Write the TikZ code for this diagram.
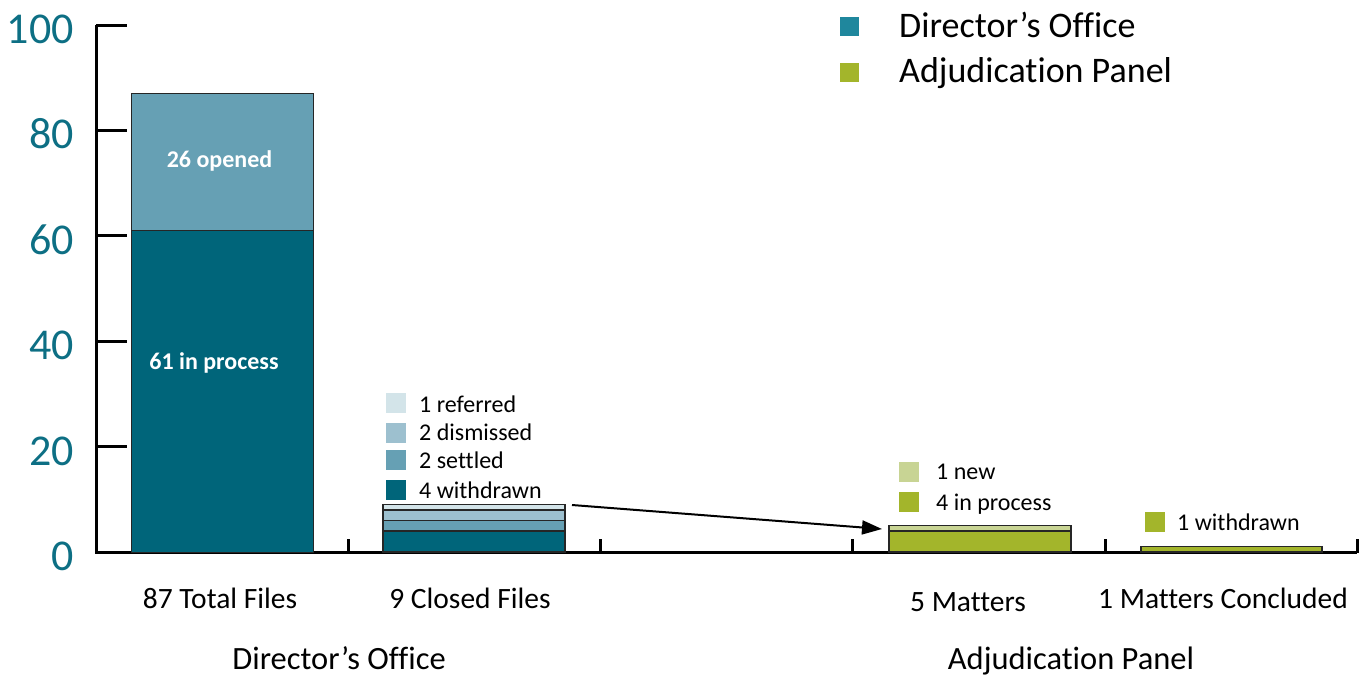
\documentclass[tikz,border=0pt]{standalone}
\usepackage{fontspec}
\setmainfont{Carlito}[Ligatures=NoCommon]
\usetikzlibrary{arrows.meta}
\definecolor{dteal}{HTML}{00657A}
\definecolor{mteal}{HTML}{66A0B4}
\definecolor{lteal}{HTML}{9DC0CF}
\definecolor{pteal}{HTML}{D3E4E9}
\definecolor{legteal}{HTML}{1F879D}
\definecolor{numteal}{HTML}{0D6F84}
\definecolor{agreen}{HTML}{A3B52B}
\definecolor{lgreen}{HTML}{C8D494}
\begin{document}
\begin{tikzpicture}[x=1pt,y=-1pt,
  axisline/.style={line width=3pt,black},
  barline/.style={draw=black!85,line width=1.4pt},
  ynum/.style={anchor=base east,inner sep=0pt,text=numteal,font=\fontsize{44}{44}\selectfont},
  inlbl/.style={anchor=base,inner sep=0pt,text=white,font=\bfseries\fontsize{24}{24}\selectfont},
  keytxt/.style={anchor=base west,inner sep=0pt,font=\fontsize{24}{24}\selectfont},
  keysq/.style={minimum size=20pt,inner sep=0pt,draw=none},
  xlbl/.style={anchor=base,inner sep=0pt,font=\fontsize{29.5}{29.5}\selectfont},
  grplbl/.style={anchor=base,inner sep=0pt,font=\fontsize{32.5}{32.5}\selectfont},
  toplbl/.style={anchor=base west,inner sep=0pt,font=\fontsize{36}{36}\selectfont},
  topsq/.style={minimum size=19pt,inner sep=0pt,draw=none}]
\useasboundingbox (0,0) rectangle (1364,675);
% axes
\draw[axisline] (96,25) -- (96,552) -- (1357,552);
\foreach \t in {25,130.4,235.8,341.2,446.6}{\draw[axisline] (96,\t) -- (127,\t);}
\foreach \xx in {348,600,852,1105,1357}{\draw[axisline] (\xx,553) -- (\xx,539);}
% y numbers
\node[ynum] (y100) at (74,43) {100};
\node[ynum] (y80) at (74,148.9) {80};
\node[ynum] (y60) at (74,254.3) {60};
\node[ynum] (y40) at (74,359.7) {40};
\node[ynum] (y20) at (74,465.1) {20};
\node[ynum] (y0) at (74,570.5) {0};
% bar 1
\draw[draw=black!85,line width=1pt,fill=dteal] (131,552) rectangle (313,230.5);
\draw[draw=black!85,line width=1pt,fill=mteal] (131,230.5) rectangle (313,93.5);
\node[inlbl] (opened) at (219.5,167) {26 opened};
\node[inlbl] (inproc) at (214,369) {61 in process};
% bar 2
\draw[barline,fill=dteal] (383,552) rectangle (565,530.9);
\draw[barline,fill=mteal] (383,530.9) rectangle (565,520.4);
\draw[barline,fill=lteal] (383,520.4) rectangle (565,509.8);
\draw[barline,fill=pteal] (383,509.8) rectangle (565,504.6);
\node[keysq,fill=pteal] (kref) at (396,403) {};
\node[keysq,fill=lteal] (kdis) at (396,433) {};
\node[keysq,fill=mteal] (kset) at (396,460) {};
\node[keysq,fill=dteal] (kwit) at (396,490) {};
\node[keytxt] (tref) at (419,412.5) {1 referred};
\node[keytxt] (tdis) at (419,440.5) {2 dismissed};
\node[keytxt] (tset) at (419,468.5) {2 settled};
\node[keytxt] (twit) at (419,498.5) {4 withdrawn};
% bar 3
\draw[barline,fill=agreen] (889,552) rectangle (1071,530.9);
\draw[barline,fill=lgreen] (889,530.9) rectangle (1071,525.6);
\node[keysq,fill=lgreen] (knew) at (909,472) {};
\node[keysq,fill=agreen] (kproc) at (909,502) {};
\node[keytxt] (tnew) at (936,479) {1 new};
\node[keytxt] (tproc) at (936,510) {4 in process};
% bar 4
\draw[barline,fill=agreen] (1141,552) rectangle (1322,546.7);
\node[keysq,fill=agreen] (kwd) at (1155,522) {};
\node[keytxt] (twd) at (1177,530) {1 withdrawn};
% arrow
\coordinate (as) at (572,505);
\coordinate (ae) at (882,529);
\draw[line width=2pt,-{Triangle[length=20pt,width=14pt]}] (as) -- (ae);
% x labels
\node[xlbl] (x1) at (220,608) {87 Total Files};
\node[xlbl] (x2) at (470,608) {9 Closed Files};
\node[xlbl] (x3) at (968,611) {5 Matters};
\node[xlbl] (x4) at (1223,608) {1 Matters Concluded};
\node[grplbl] (g1) at (339,669) {Director’s Office};
\node[grplbl] (g2) at (1071,669) {Adjudication Panel};
% top legend
\node[topsq,fill=legteal] (lsq1) at (849.5,26) {};
\node[topsq,fill=agreen] (lsq2) at (849.5,72) {};
\node[toplbl] (l1) at (899,37) {Director’s Office};
\node[toplbl] (l2) at (899,82) {Adjudication Panel};
\end{tikzpicture}
\end{document}
